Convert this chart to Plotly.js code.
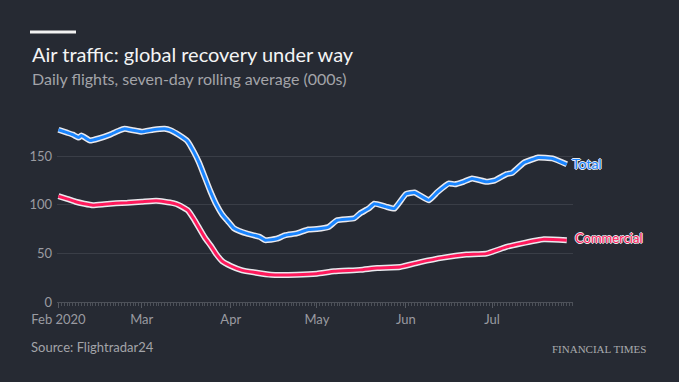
<!DOCTYPE html>
<html>
<head>
<meta charset="utf-8">
<script src="https://cdn.plot.ly/plotly-3.0.1.min.js"></script>
<style>
html,body{margin:0;padding:0;background:#262a33;}
#chart{width:679px;height:382px;}
</style>
</head>
<body>
<div id="chart"></div>
<script>
// ---- data ----
var totalDates = ['2020-02-01','2020-02-04','2020-02-06','2020-02-08','2020-02-09','2020-02-12','2020-02-15','2020-02-19','2020-02-22','2020-02-24','2020-02-27','2020-03-01','2020-03-05','2020-03-09','2020-03-11','2020-03-14','2020-03-17','2020-03-19','2020-03-21','2020-03-23','2020-03-25','2020-03-27','2020-03-29','2020-03-31','2020-04-02','2020-04-04','2020-04-07','2020-04-11','2020-04-13','2020-04-15','2020-04-17','2020-04-20','2020-04-24','2020-04-28','2020-05-01','2020-05-05','2020-05-08','2020-05-14','2020-05-16','2020-05-19','2020-05-21','2020-05-25','2020-05-28','2020-06-01','2020-06-04','2020-06-09','2020-06-12','2020-06-16','2020-06-18','2020-06-21','2020-06-24','2020-06-29','2020-07-02','2020-07-06','2020-07-08','2020-07-12','2020-07-15','2020-07-17','2020-07-22','2020-07-27'];
var totalValues = [177,174,172,169,171,166,168,172,176,178,176.5,175,177,178,176.5,171.5,165,155,143,128,113,100,90,83,76,73,70,67,63.5,64,65,68.6,70.5,74.5,75,77,84,86,91,96,101,98,96,111,112.5,104.6,113,121.8,121,123.5,127,123.5,125,131.4,132.7,143,146.5,148.5,147.5,141.5];

var commercialDates = ['2020-02-01','2020-02-04','2020-02-07','2020-02-10','2020-02-13','2020-02-17','2020-02-21','2020-02-25','2020-03-01','2020-03-06','2020-03-09','2020-03-12','2020-03-14','2020-03-17','2020-03-19','2020-03-21','2020-03-23','2020-03-25','2020-03-27','2020-03-29','2020-04-01','2020-04-05','2020-04-09','2020-04-15','2020-04-24','2020-05-01','2020-05-07','2020-05-16','2020-05-22','2020-05-30','2020-06-06','2020-06-14','2020-06-22','2020-06-29','2020-07-06','2020-07-11','2020-07-19','2020-07-27'];
var commercialValues = [108.7,106,103,101,99.5,100.5,101.5,102,103,104,103,101.5,99.5,94.3,86,76,66,58,49,42,37,32.5,30.5,28,28,29,31.5,33,35,36,41,45.6,48.7,49.7,56.6,60,64.5,63.5];

var xTickVals = ['2020-02-01','2020-03-01','2020-04-01','2020-05-01','2020-06-01','2020-07-01'];
var xTickText = ['Feb 2020','Mar','Apr','May','Jun','Jul'];
var yTickVals = [0,50,100,150];
var yTickText = ['0','50','100','150'];

var seriesNames = ['Total','Commercial'];
var seriesColors = ['#1a85ff','#ff1a5c'];

// ---- chart ----
var FONT = 'Lato, "Noto Sans", sans-serif';
var BG = '#262a33';
var HALO = '#e9e9ee';

function halo(x, y){
  return {x:x, y:y, type:'scatter', mode:'lines', hoverinfo:'skip', showlegend:false,
    line:{color:HALO, width:6, shape:'spline', smoothing:0.35}};
}
function core(x, y, c, n){
  return {x:x, y:y, type:'scatter', mode:'lines', name:n, showlegend:false,
    line:{color:c, width:3, shape:'spline', smoothing:0.35}};
}

var data = [
  halo(totalDates, totalValues),
  halo(commercialDates, commercialValues),
  core(totalDates, totalValues, seriesColors[0], seriesNames[0]),
  core(commercialDates, commercialValues, seriesColors[1], seriesNames[1])
];

// plot area: left 57, right 573, top 120, bottom 302
var L = 57, R = 573, T = 120, B = 302;
function px(x){ return (x - L) / (R - L); }
function py(y){ return (B - y) / (B - T); }

var labelShadow = '1px 0 0 ' + HALO + ', -1px 0 0 ' + HALO + ', 0 1px 0 ' + HALO + ', 0 -1px 0 ' + HALO;

var layout = {
  width:679, height:382,
  paper_bgcolor:BG, plot_bgcolor:BG,
  margin:{l:L, r:679-R, t:T, b:382-B, pad:0},
  font:{family:FONT, color:'#9a9ba1', size:13},
  showlegend:false,
  xaxis:{
    type:'date',
    range:['2020-01-31 12:00','2020-07-29 04:00'],
    tickmode:'array', tickvals:xTickVals, ticktext:xTickText,
    ticks:'outside', ticklen:5, tickwidth:1, tickcolor:'#555961',
    showline:true, linecolor:'#4d5159', linewidth:1,
    showgrid:false, zeroline:false,
    tickfont:{family:FONT, size:13, color:'#9a9ba1'},
    minor:{ticks:'outside', ticklen:3, tickwidth:1, tickcolor:'#4d5159', dtick:86400000, tick0:'2020-02-01', showgrid:false},
    fixedrange:true
  },
  yaxis:{
    range:[0,187],
    tickmode:'array', tickvals:yTickVals, ticktext:yTickText,
    ticks:'', showline:false, zeroline:false,
    showgrid:true, gridcolor:'#3a3e47', gridwidth:1,
    tickfont:{family:FONT, size:13, color:'#9a9ba1'},
    ticklabelstandoff:4,
    fixedrange:true
  },
  shapes:[
    {type:'line', xref:'paper', yref:'paper', x0:px(30), x1:px(76), y0:py(32), y1:py(32),
     line:{color:'#f2f2f2', width:3}}
  ],
  annotations:[
    {xref:'paper', yref:'paper', x:px(30), y:py(54), xanchor:'left', yanchor:'middle', showarrow:false,
     text:'Air traffic: global recovery under way', font:{family:FONT, size:20, color:'#f4f4f5'}},
    {xref:'paper', yref:'paper', x:px(30), y:py(79), xanchor:'left', yanchor:'middle', showarrow:false,
     text:'Daily flights, seven-day rolling average (000s)', font:{family:FONT, size:16, color:'#a3a4a9'}},
    {xref:'paper', yref:'paper', x:px(29), y:py(347), xanchor:'left', yanchor:'middle', showarrow:false,
     text:'Source: Flightradar24', font:{family:FONT, size:13, color:'#a3a4a9'}},
    {xref:'paper', yref:'paper', x:px(648), y:py(349), xanchor:'right', yanchor:'middle', showarrow:false,
     text:'FINANCIAL TIMES', font:{family:'"Liberation Serif", "DejaVu Serif", serif', size:11, color:'#a9aaae'}},
    {xref:'x', yref:'y', x:totalDates[totalDates.length-1], y:totalValues[totalValues.length-1],
     xanchor:'left', yanchor:'middle', xshift:3, yshift:1, showarrow:false,
     text:seriesNames[0], font:{family:FONT, size:14, color:seriesColors[0], shadow:labelShadow}},
    {xref:'x', yref:'y', x:commercialDates[commercialDates.length-1], y:commercialValues[commercialValues.length-1],
     xanchor:'left', yanchor:'middle', xshift:6, yshift:2, showarrow:false,
     text:seriesNames[1], font:{family:FONT, size:13, color:seriesColors[1], shadow:labelShadow}}
  ]
};

Plotly.newPlot('chart', data, layout, {displayModeBar:false, staticPlot:true});
</script>
</body>
</html>
